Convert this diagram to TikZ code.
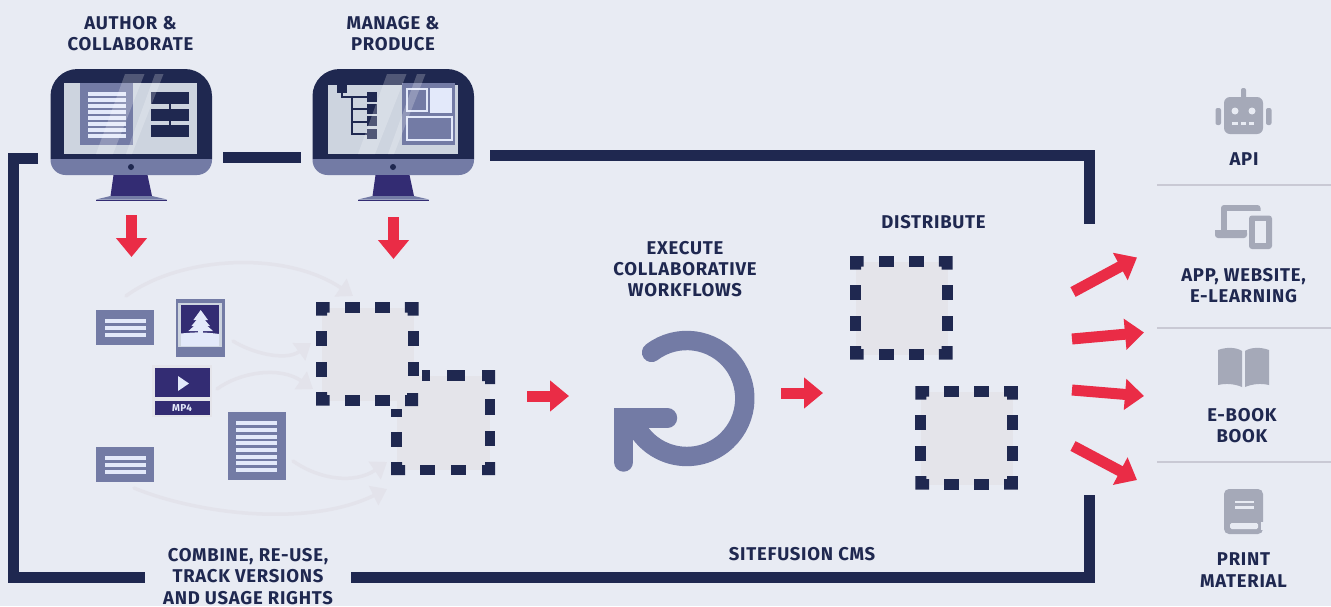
\documentclass[tikz,border=0pt]{standalone}
\usepackage{fontspec}
\setmainfont{Fira Sans}[LetterSpace=4]
\usetikzlibrary{arrows.meta}
\definecolor{bgc}{HTML}{E8EBF3}
\definecolor{navy}{HTML}{1F2850}
\definecolor{midb}{HTML}{737BA5}
\definecolor{purp}{HTML}{332C73}
\definecolor{redc}{HTML}{EA2C46}
\definecolor{lite}{HTML}{E3E9FA}
\definecolor{ghost}{HTML}{E3E3EB}
\definecolor{sqf}{HTML}{E4E4EA}
\definecolor{scr}{HTML}{CDD4DF}
\definecolor{icon}{HTML}{A5A9B8}
\definecolor{sep}{HTML}{C9C9D4}
\tikzset{
  lbl/.style={inner sep=0pt,align=center,text=navy,font=\fontsize{18.5}{21.2}\selectfont\bfseries},
  frameline/.style={draw=navy,line width=11pt,line join=miter},
  redarrow/.style={draw=redc,line width=11pt,-{Triangle[length=19pt,width=30pt]}},
  ghostarrow/.style={draw=ghost,line width=3.5pt,line cap=round,-{Triangle[length=15pt,width=21pt]}},
  sepline/.style={draw=sep,line width=2pt},
  ring/.style={draw=midb,line width=19.4pt,line cap=round,line join=round},
  glass/.style={fill=white,opacity=.22}
}
\newcommand{\monitorbody}{%
  \fill[navy] (50.5,159) -- (50.5,96) arc[start angle=180,end angle=270,radius=27] -- (185,69) arc[start angle=270,end angle=360,radius=27] -- (212,159) -- cycle;
  \fill[midb] (50.5,159) -- (212,159) -- (212,160) arc[start angle=0,end angle=90,radius=15] -- (65.5,175) arc[start angle=90,end angle=180,radius=15] -- cycle;
  \fill[navy] (131,167) circle (3);
  \fill[purp] (113.5,175) -- (147.5,175) -- (152,196) -- (110.5,196) -- cycle;
  \fill[midb] (110.5,196) -- (152,196) -- (167,199.5) -- (96,199.5) -- cycle;
  \fill[purp] (96,199.5) rectangle (167,201);
}
\newcommand{\glassstripes}{%
  \fill[glass] (125,74) -- (144.5,74) -- (113,154) -- (96,154) -- cycle;
  \fill[glass] (155,74) -- (163.5,74) -- (132,154) -- (126,154) -- cycle;
}
\newcommand{\notchcorners}{%
  \fill[navy] (0,0) -- (13.7,0) -- (13.7,10.7) -- (11,10.7) -- (11,13.7) -- (0,13.7) -- cycle;
  \fill[navy] (102.5,0) -- (88.8,0) -- (88.8,10.7) -- (91.7,10.7) -- (91.7,13.7) -- (102.5,13.7) -- cycle;
  \fill[navy] (0,103.7) -- (13.7,103.7) -- (13.7,93) -- (11,93) -- (11,90) -- (0,90) -- cycle;
  \fill[navy] (102.5,103.7) -- (88.8,103.7) -- (88.8,93) -- (91.7,93) -- (91.7,90) -- (102.5,90) -- cycle;
}
\newcommand{\dashsq}[2]{%
  \begin{scope}[shift={(#1,#2)}]
    \fill[sqf] (6,6) rectangle (97.7,99);
    \notchcorners
    \foreach \a/\b in {28.7/44,59/74}{\fill[navy] (\a,0) rectangle (\b,11);\fill[navy] (\a,93) rectangle (\b,103.7);}
    \foreach \a/\b in {29/44.3,59.7/75}{\fill[navy] (0,\a) rectangle (10.8,\b);\fill[navy] (91.7,\a) rectangle (102.5,\b);}
  \end{scope}}
\newcommand{\shortdoc}[2]{%
  \fill[midb] (#1,#2) rectangle ++(58,35);
  \foreach \d in {9,16,23}{\fill[lite] (#1+9,#2+\d) rectangle ++(41,4);}
}
\begin{document}
\begin{tikzpicture}[x=1pt,y=-1pt]
\fill[bgc] (0,0) rectangle (1331,606);
\useasboundingbox (0,0) rectangle (1331,606);

% coordinates
\coordinate (fa) at (38,158.5);
\coordinate (fb) at (13.5,158.5);
\coordinate (fc) at (13.5,577.5);
\coordinate (fd) at (145,577.5);
\coordinate (fe) at (223,157.5);
\coordinate (ff) at (301,157.5);
\coordinate (fg) at (490,155.5);
\coordinate (fh) at (1089.5,155.5);
\coordinate (fi) at (1089.5,224);
\coordinate (fj) at (351,577.5);
\coordinate (fk) at (1089.5,577.5);
\coordinate (fl) at (1089.5,495);

% frame
\draw[frameline] (fa) -- (fb) -- (fc) -- (fd);
\draw[frameline] (fe) -- (ff);
\draw[frameline] (fg) -- (fh) -- (fi);
\draw[frameline] (fj) -- (fk) -- (fl);

% monitor 1
\monitorbody
\fill[scr] (64,83) rectangle (197,154);
\fill[midb] (80,83) rectangle (133,145);
\foreach \d in {92,98,104,110,116,122,128,134}{\fill[lite] (88,\d) rectangle (126,\d+4);}
\fill[navy] (151,92) rectangle (189,104);
\fill[navy] (151,109) rectangle (189,121);
\fill[navy] (151,125) rectangle (189,137);
\fill[navy] (169,104) rectangle (171,109);
\fill[navy] (169,121) rectangle (171,125);
\glassstripes

% monitor 2
\begin{scope}[shift={(262,0)}]
\monitorbody
\fill[scr] (66,85) rectangle (196,154);
\fill[navy] (75,85) rectangle (85,93);
\draw[navy,line width=2pt] (80,93) -- (80,97) -- (105,97);
\draw[navy,line width=2pt] (90,97) -- (90,134) -- (105,134);
\draw[navy,line width=2pt] (90,109) -- (105,109);
\draw[navy,line width=2pt] (90,122) -- (105,122);
\fill[navy] (105,92) rectangle (115,102);
\fill[navy] (105,104) rectangle (115,114);
\fill[navy] (105,116) rectangle (115,126);
\fill[navy] (105,129) rectangle (115,139);
\fill[midb] (140,83) rectangle (193,145);
\draw[lite,line width=2.5pt] (145,89) rectangle (165,111);
\fill[lite] (168,88) rectangle (190,113);
\draw[lite,line width=2.5pt] (145,117) rectangle (190,140);
\glassstripes
\end{scope}

% red arrows
\coordinate (ra1) at (131.5,215); \coordinate (ra2) at (131.5,257);
\coordinate (rb1) at (393.5,217); \coordinate (rb2) at (393.5,259);
\coordinate (rc1) at (527,396); \coordinate (rc2) at (569,396);
\coordinate (rd1) at (781,393); \coordinate (rd2) at (823,393);
\coordinate (re1) at (1073,292); \coordinate (re2) at (1137,257.5);
\coordinate (rf1) at (1072,339); \coordinate (rf2) at (1144,332.5);
\coordinate (rg1) at (1072,390); \coordinate (rg2) at (1144,396);
\coordinate (rh1) at (1073,446); \coordinate (rh2) at (1137,480);
\foreach \p in {ra,rb,rc,rd,re,rf,rg,rh}{\draw[redarrow] (\p1) -- (\p2);}

% ghost arrows
\coordinate (g1a) at (126,296); \coordinate (g1b) at (353,296);
\coordinate (g2a) at (233,341); \coordinate (g2b) at (311,343);
\coordinate (g3a) at (217,389); \coordinate (g3b) at (313,389);
\coordinate (g4a) at (293,461); \coordinate (g4b) at (387,462);
\coordinate (g5a) at (134,488); \coordinate (g5b) at (387,489);
\draw[ghostarrow] (g1a) .. controls (180,256) and (285,250) .. (g1b);
\draw[ghostarrow] (g2a) .. controls (250,352) and (285,362) .. (g2b);
\draw[ghostarrow] (g3a) .. controls (240,372) and (280,366) .. (g3b);
\draw[ghostarrow] (g4a) .. controls (320,480) and (355,484) .. (g4b);
\draw[ghostarrow] (g5a) .. controls (200,515) and (310,527) .. (g5b);

% documents
\shortdoc{96}{310}
\shortdoc{96}{447}
\fill[midb] (228,412) rectangle (286,480);
\foreach \d in {421,428,435,441,448,455,461,468}{\fill[lite] (236,\d) rectangle (277,\d+4);}
% image
\fill[midb] (176,299) rectangle (225,357);
\fill[scr] (178,303) rectangle (222,347);
\fill[purp] (181,305) rectangle (219,334);
\fill[lite] (181,333.5) .. controls (195,332) and (205,332) .. (219,334) -- (219,346) -- (181,346) -- cycle;
\fill[lite] (200.7,310) -- (208,320) -- (193.4,320) -- cycle;
\fill[lite] (200.7,315) -- (210,326) -- (191.4,326) -- cycle;
\fill[lite] (200.7,320) -- (213,331) -- (188.4,331) -- cycle;
\fill[lite] (198.2,330) rectangle (203.2,335);
% video
\fill[sqf] (152,365) rectangle (212,417);
\fill[purp] (155,368) rectangle (210,397);
\fill[purp] (155,401) rectangle (210,415);
\fill[lite] (178,376) -- (189,383.5) -- (178,391) -- cycle;
\node[inner sep=0pt,text=lite,font=\fontsize{10}{10}\selectfont\bfseries] (mp) at (182,408) {MP4};

% dashed squares
\dashsq{316}{302}
\dashsq{850}{256}
\dashsq{915.3}{386}
% second square with its cut corner
\fill[sqf] (397,376) rectangle (490,470);
\fill[navy] (422,370) rectangle (430,381);
\fill[navy] (447,370) rectangle (465,381);
\fill[navy] (482,370) -- (495,370) -- (495,384) -- (485,384) -- (485,381) -- (482,381) -- cycle;
\fill[navy] (391,409) rectangle (402,417);
\fill[navy] (391,432) rectangle (402,447);
\fill[navy] (485,399) rectangle (495,415);
\fill[navy] (485,431) rectangle (495,446);
\fill[navy] (391,462) -- (402,462) -- (402,465) -- (405,465) -- (405,475) -- (391,475) -- cycle;
\fill[navy] (482,465) -- (485,465) -- (485,462) -- (495,462) -- (495,475) -- (482,475) -- cycle;
\fill[navy] (420,464.5) rectangle (435,475);
\fill[navy] (451,464.5) rectangle (466,475);
% first square corner back on top
\fill[navy] (405,395) -- (407,395) -- (407,393) -- (418,393) -- (418,406) -- (405,406) -- cycle;

% cycle arrow
\coordinate (cyc) at (686.8,398.5);
\coordinate (cy1) at (651.6,352.4);
\coordinate (cy2) at (623.7,418);
\coordinate (cy3) at (667.5,418);
\coordinate (cy4) at (623.7,462);
\draw[ring] (cy1) arc[start angle=-127.4,end angle=150,radius=58];
\draw[ring] (cy3) -- (cy2) -- (cy4);
\draw[ring] (636,428) -- (cy2);
\fill[midb] (614,408.3) rectangle (630,427);

% separators
\coordinate (s1a) at (1157,185); \coordinate (s1b) at (1331,185);
\coordinate (s2a) at (1157,328); \coordinate (s2b) at (1331,328);
\coordinate (s3a) at (1157,462); \coordinate (s3b) at (1331,462);
\draw[sepline] (s1a) -- (s1b);
\draw[sepline] (s2a) -- (s2b);
\draw[sepline] (s3a) -- (s3b);

% robot icon
\fill[icon,rounded corners=6pt] (1224,97) rectangle (1263,134);
\fill[icon,rounded corners=2pt] (1241,88) rectangle (1246,99);
\fill[icon,rounded corners=2pt] (1215.5,108) rectangle (1221,125);
\fill[icon,rounded corners=2pt] (1266,108) rectangle (1271.5,125);
\fill[bgc] (1235,111) circle (3.5);
\fill[bgc] (1252,111) circle (3.5);
\fill[bgc] (1232,122) rectangle (1238,125);
\fill[bgc] (1241,122) rectangle (1246,125);
\fill[bgc] (1249,122) rectangle (1254,125);

% devices icon
\fill[icon,rounded corners=3pt] (1221,205) rectangle (1260.5,225);
\fill[bgc] (1227,211) rectangle (1262,232);
\fill[icon] (1221,215) rectangle (1227,232);
\fill[icon,rounded corners=3pt] (1215,230) rectangle (1247,238);
\fill[icon] (1215,230) rectangle (1247,234);
\fill[icon,rounded corners=3pt] (1249,215.5) rectangle (1272,249);
\fill[bgc] (1254.7,221) rectangle (1266,243);

% open book icon
\fill[icon] (1218,350) .. controls (1226,347) and (1236,347) .. (1242,351) -- (1242,387) .. controls (1235,384) and (1226,383) .. (1218,385) -- cycle;
\fill[icon] (1269,350) .. controls (1261,347) and (1251,347) .. (1245,351) -- (1245,387) .. controls (1252,384) and (1261,383) .. (1269,385) -- cycle;

% closed book icon
\fill[icon,rounded corners=5pt] (1224,489) rectangle (1263,534);
\fill[bgc] (1235,500.5) rectangle (1254,503);
\fill[bgc] (1235,506) rectangle (1254,508.5);
\fill[bgc,rounded corners=1.5pt] (1230,523) rectangle (1258,529);
\fill[bgc] (1261,522) rectangle (1264,530);

% labels
\node[lbl] (t1) at (130.5,33.5) {AUTHOR \&\\COLLABORATE};
\node[lbl] (t2) at (393,33.5) {MANAGE \&\\PRODUCE};
\node[lbl] (t3) at (685,269) {EXECUTE\\COLLABORATIVE\\WORKFLOWS};
\node[lbl] (t4) at (933.5,222.5) {DISTRIBUTE};
\node[lbl] (t5) at (1244,159.5) {API};
\node[lbl] (t6) at (1243.5,285.5) {APP, WEBSITE,\\E-LEARNING};
\node[lbl] (t7) at (1242,425.5) {E-BOOK\\BOOK};
\node[lbl] (t8) at (1243.5,570) {PRINT\\MATERIAL};
\node[lbl] (t9) at (248,576.5) {COMBINE, RE-USE,\\TRACK VERSIONS\\AND USAGE RIGHTS};
\node[lbl] (t10) at (802,554) {SITEFUSION CMS};
\end{tikzpicture}
\end{document}
